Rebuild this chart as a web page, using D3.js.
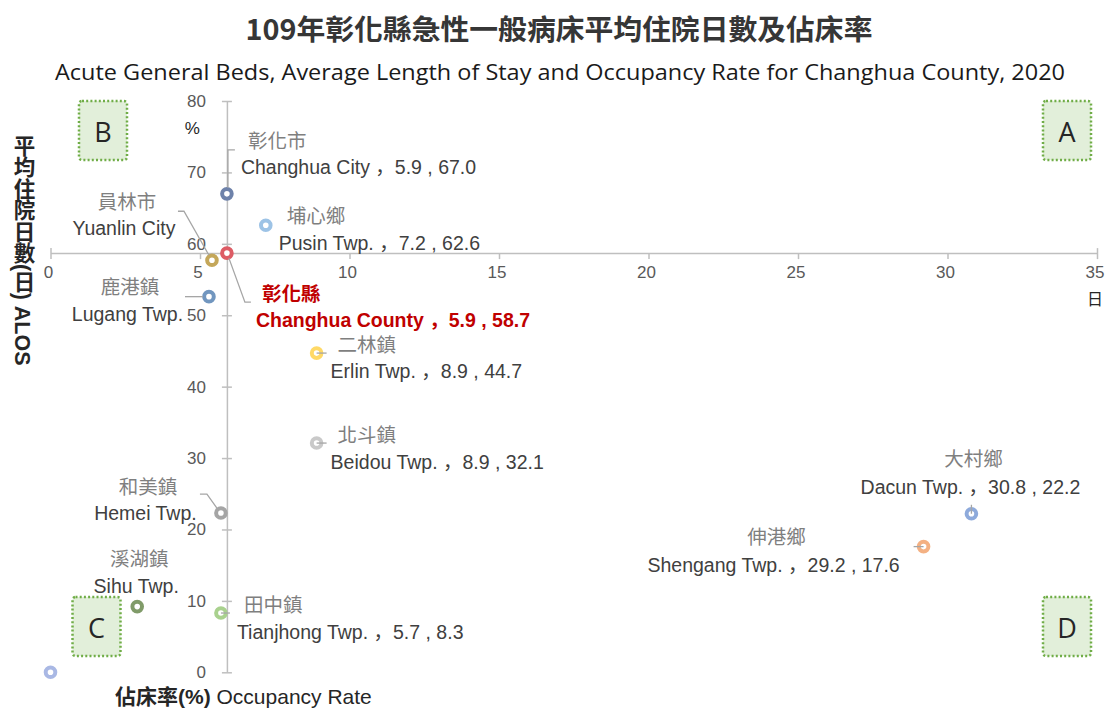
<!DOCTYPE html>
<html>
<head>
<meta charset="utf-8">
<script src="https://cdn.jsdelivr.net/npm/d3@7"></script>
<style>
  html, body { margin: 0; padding: 0; background: #ffffff; }
  svg { display: block; }
</style>
</head>
<body>
<svg id="chart" width="1105" height="710"></svg>
<script>
// ---------------- DATA ----------------
const namesZh = ["彰化市", "埔心鄉", "員林市", "彰化縣", "鹿港鎮", "二林鎮", "北斗鎮", "和美鎮", "溪湖鎮", "田中鎮", "大村鄉", "伸港鄉", "其他鄉鎮"];
const namesEn = ["Changhua City", "Pusin Twp.", "Yuanlin City", "Changhua County", "Lugang Twp.", "Erlin Twp.", "Beidou Twp.", "Hemei Twp.", "Sihu Twp.", "Tianjhong Twp.", "Dacun Twp.", "Shengang Twp.", "Other Twps."];
const alos = [5.9, 7.2, 5.4, 5.9, 5.3, 8.9, 8.9, 5.7, 2.9, 5.7, 30.8, 29.2, 0];           // 平均住院日數(日)
const occupancy = [67.0, 62.6, 57.7, 58.7, 52.6, 44.7, 32.1, 22.3, 9.2, 8.3, 22.2, 17.6, 0]; // 佔床率(%)
const showValues = [true, true, false, true, false, true, true, false, false, true, true, true, false];
const showLabel = [true, true, true, true, true, true, true, true, true, true, true, true, false];
const countyIndex = 3;
const xTicks = [0, 5, 10, 15, 20, 25, 30, 35];
const yTicks = [0, 10, 20, 30, 40, 50, 60, 70, 80];
const quadrantNames = ["A", "B", "C", "D"];

// ---------------- STYLE / LAYOUT ----------------
const colors = ["#6e82aa", "#9dc3e6", "#c4a75a", "#dd5c65", "#7196bf", "#ffd966", "#c9c9c9", "#a5a5a5", "#809b69", "#a9d18e", "#8eaadb", "#f4b183", "#a9b8e4"];
// label offsets relative to the point: [zh dx, zh dy, en dx, en dy, anchor]
const labelOffsets = [
  [21, -54, 14, -27, "start"],
  [21, -11, 13, 18, "start"],
  [-85, -60, -88, -32, "middle"],
  [35, 39, 29, 67, "start"],
  [-79, -11, -81.5, 17, "middle"],
  [21, -10, 14, 18, "start"],
  [21, -10, 14, 19, "start"],
  [-73, -28, -75.5, 0, "middle"],
  [2, -49, -1, -21, "middle"],
  [23, -10, 16, 19, "start"],
  [2, -56, -1, -27, "middle"],
  [-147, -11, -150, 18, "middle"],
  null
];
// leader lines relative to the point
const leaders = [
  [[8, -44], [1, -44], [1, -6]],
  null,
  [[-34, -49], [-28, -49], [-3, -5]],
  [[2, 5], [18, 49], [24, 49]],
  [[-24, 0], [-6, 0]],
  [[0, 0], [10, 0]],
  [[0, 0], [10, 0]],
  [[-21, -19], [-14, -19], [-4, -5]],
  null,
  [[0, 0], [9, 0]],
  [[0, -9], [0, 0]],
  [[-10, 0], [0, 0]],
  null
];
const quadrantBoxes = [
  {x: 1043, y: 101, w: 48, h: 59},
  {x: 79, y: 101, w: 48, h: 59},
  {x: 72.5, y: 597, w: 48, h: 59},
  {x: 1043, y: 597, w: 48, h: 59}
];

const svg = d3.select("#chart");
const latin = "'Liberation Sans', Arial, 'Noto Sans CJK JP', sans-serif";
const cjk = "'Noto Sans CJK TC', 'Noto Sans CJK SC', sans-serif";

const x = d3.scaleLinear().domain([0, 35]).range([50.5, 1097]);
const y = d3.scaleLinear().domain([0, 80]).range([672.3, 101]);

// ---------------- TITLES ----------------
svg.append("text")
  .attr("x", 559).attr("y", 27)
  .attr("text-anchor", "middle").attr("dominant-baseline", "central")
  .style("font-family", cjk).style("font-size", "28.8px").style("font-weight", "bold")
  .style("fill", "#363636")
  .text("109年彰化縣急性一般病床平均住院日數及佔床率");

svg.append("text")
  .attr("x", 55).attr("y", 71)
  .attr("dominant-baseline", "central")
  .attr("textLength", 1010).attr("lengthAdjust", "spacingAndGlyphs")
  .style("font-family", "'Open Sans', 'Noto Sans', sans-serif").style("font-size", "22px")
  .style("fill", "#1a1a1a")
  .text("Acute General Beds, Average Length of Stay and Occupancy Rate for Changhua County, 2020");

// ---------------- QUADRANT BOXES ----------------
const qg = svg.append("g");
quadrantBoxes.forEach((b, i) => {
  qg.append("rect")
    .attr("x", b.x).attr("y", b.y).attr("width", b.w).attr("height", b.h)
    .attr("rx", 3)
    .style("fill", "#e2efda").style("stroke", "#70ad47")
    .style("stroke-width", 2.5).style("stroke-dasharray", "2 2.2");
  qg.append("text")
    .attr("x", b.x + b.w / 2).attr("y", b.y + b.h / 2 + 1)
    .attr("text-anchor", "middle").attr("dominant-baseline", "central")
    .style("font-family", "'Open Sans', 'Noto Sans', sans-serif").style("font-size", "27px")
    .style("fill", "#262626")
    .text(quadrantNames[i]);
});

// ---------------- AXES ----------------
const axisColor = "#bfbfbf";
const xAxisG = svg.append("g")
  .attr("transform", `translate(0,${y(occupancy[countyIndex])})`)
  .call(d3.axisBottom(x).tickValues(xTicks).tickSizeInner(6).tickSizeOuter(0).tickFormat(d3.format("d")));
xAxisG.select(".domain").style("stroke", axisColor).style("stroke-width", 1.5);
xAxisG.selectAll(".tick line").style("stroke", axisColor).style("stroke-width", 1.5)
  .attr("y1", (d, i) => (i === 0 || i === xTicks.length - 1) ? -5 : 0);
xAxisG.selectAll(".tick text")
  .attr("y", 13).attr("x", -2.5)
  .style("font-family", latin).style("font-size", "17px").style("fill", "#595959");

const yAxisG = svg.append("g")
  .attr("transform", `translate(${x(alos[countyIndex])},0)`)
  .call(d3.axisLeft(y).tickValues(yTicks).tickSizeInner(5).tickSizeOuter(0).tickFormat(d3.format("d")));
yAxisG.select(".domain").style("stroke", axisColor).style("stroke-width", 1.5);
yAxisG.selectAll(".tick line").style("stroke", axisColor).style("stroke-width", 1.5).attr("x2", 5).attr("x1", -5);
yAxisG.selectAll(".tick text")
  .attr("x", -21)
  .style("font-family", latin).style("font-size", "17px").style("fill", "#595959");

// unit labels
svg.append("text")
  .attr("x", x(alos[countyIndex]) - 27).attr("y", y(80) + 27)
  .attr("text-anchor", "end").attr("dominant-baseline", "central")
  .style("font-family", latin).style("font-size", "17px").style("fill", "#262626")
  .text("%");
svg.append("text")
  .attr("x", x(35) - 2).attr("y", y(occupancy[countyIndex]) + 45)
  .attr("text-anchor", "middle").attr("dominant-baseline", "central")
  .style("font-family", cjk).style("font-size", "16px").style("fill", "#262626")
  .text("日");

// axis titles
svg.append("text")
  .attr("x", 22).attr("y", 135)
  .style("writing-mode", "vertical-rl")
  .style("font-family", "'Liberation Sans', 'Noto Sans CJK TC', sans-serif")
  .style("font-size", "21.5px").style("font-weight", "bold").style("fill", "#262626")
  .text("平均住院日數(日) ALOS");

const bt = svg.append("text")
  .attr("x", 115).attr("y", 696)
  .attr("dominant-baseline", "central")
  .style("font-size", "21px").style("fill", "#262626");
bt.append("tspan").style("font-family", "'Liberation Sans', 'Noto Sans CJK TC', sans-serif").style("font-weight", "bold").text("佔床率(%)");
bt.append("tspan").style("font-family", latin).text(" Occupancy Rate");

// ---------------- POINTS ----------------
const idx = d3.range(alos.length);
const pg = svg.append("g");
pg.selectAll("circle")
  .data(idx.slice().reverse())
  .join("circle")
  .attr("cx", i => x(alos[i]))
  .attr("cy", i => y(occupancy[i]))
  .attr("r", 4.8)
  .style("fill", "#ffffff")
  .style("stroke", i => colors[i])
  .style("stroke-width", 4);

// leader lines
const line = d3.line();
const lg = svg.append("g");
idx.forEach(i => {
  if (!leaders[i]) return;
  const px = x(alos[i]), py = y(occupancy[i]);
  lg.append("path")
    .attr("d", line(leaders[i].map(p => [px + p[0], py + p[1]])))
    .style("fill", "none").style("stroke", "#a6a6a6").style("stroke-width", 1.3);
});

// labels
const tg = svg.append("g");
idx.forEach(i => {
  if (!showLabel[i]) return;
  const o = labelOffsets[i];
  const px = x(alos[i]), py = y(occupancy[i]);
  const isCounty = i === countyIndex;
  tg.append("text")
    .attr("x", px + o[0]).attr("y", py + o[1])
    .attr("text-anchor", o[4]).attr("dominant-baseline", "central")
    .style("font-family", cjk).style("font-size", "19.5px")
    .style("font-weight", isCounty ? "bold" : "normal")
    .style("fill", isCounty ? "#c00000" : "#7f7f7f")
    .text(namesZh[i]);
  const en = showValues[i]
    ? `${namesEn[i]} ，${alos[i].toFixed(1)} , ${occupancy[i].toFixed(1)}`
    : namesEn[i];
  tg.append("text")
    .attr("x", px + o[2]).attr("y", py + o[3])
    .attr("text-anchor", o[4]).attr("dominant-baseline", "central")
    .style("font-family", latin).style("font-size", "19.5px")
    .style("font-weight", isCounty ? "bold" : "normal")
    .style("fill", isCounty ? "#c00000" : "#404040")
    .text(en);
});
</script>
</body>
</html>
